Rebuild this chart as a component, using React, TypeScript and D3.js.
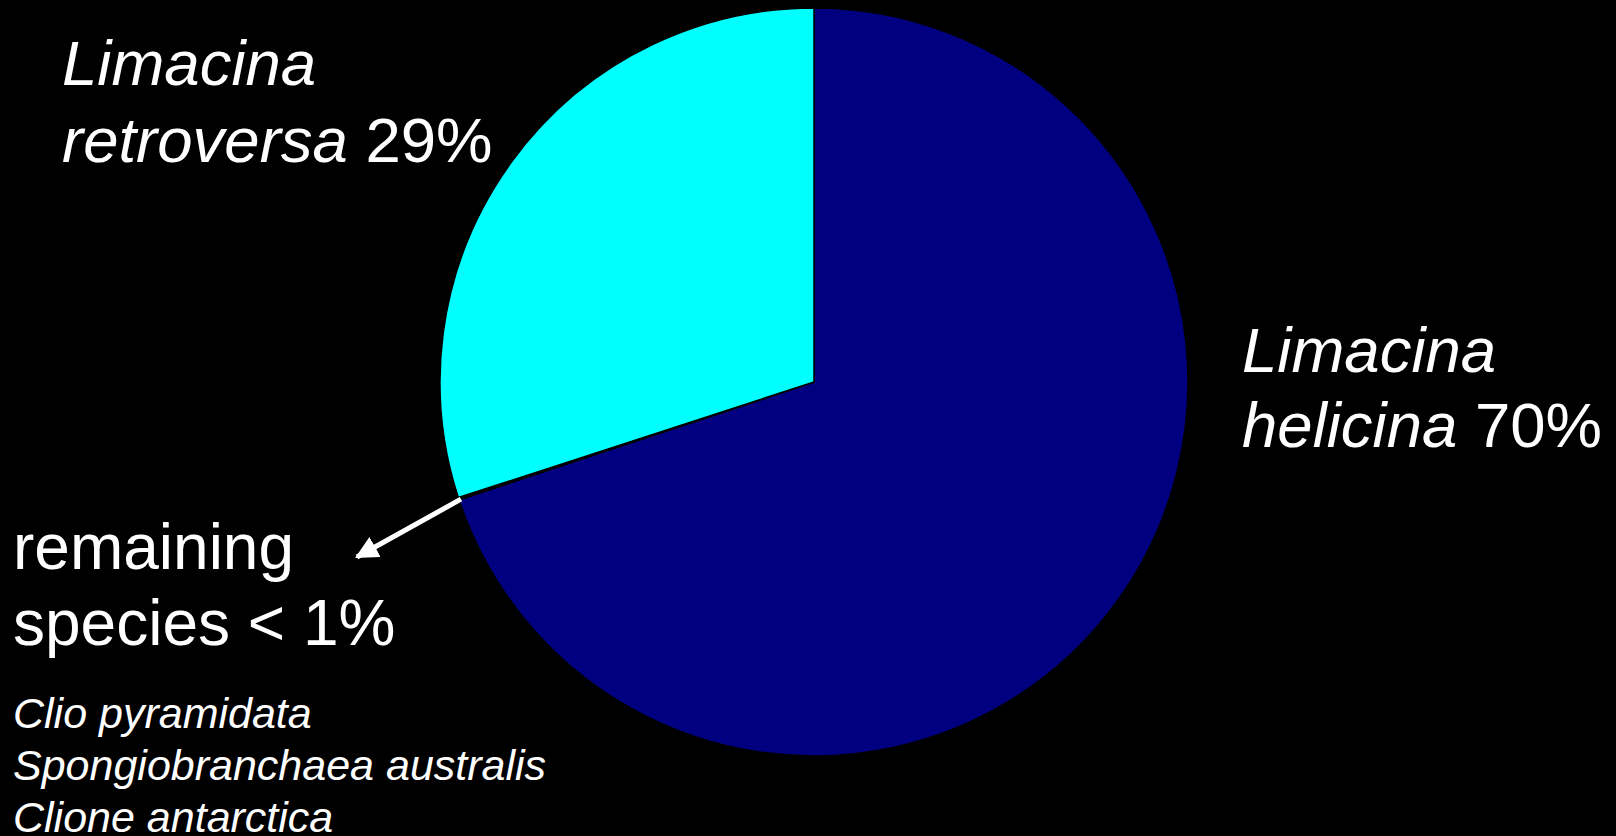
import React from "react";
import * as d3 from "d3";

const categories = ["Limacina helicina", "remaining species", "Limacina retroversa"];
const values = [69.9, 0.1, 30.0];
const colors = ["#000080", "#000000", "#00FFFF"];
const minorSpecies = ["Clio pyramidata", "Spongiobranchaea australis", "Clione antarctica"];

const W = 1616;
const H = 836;
const cx = 814;
const cy = 382;
const R = 374;

export default function App() {
  const pie = d3.pie<number>().sort(null).value((d) => d)(values);
  const arc = d3.arc<d3.PieArcDatum<number>>().innerRadius(0).outerRadius(R);
  const a0 = pie[0].endAngle;
  const sx = cx + (R - 2) * Math.sin(a0);
  const sy = cy - (R - 2) * Math.cos(a0);
  const tx = 357;
  const ty = 557;
  const font = "'Liberation Sans', Arial, sans-serif";
  return (
    <svg
      width={W}
      height={H}
      style={{ position: "absolute", left: 0, top: 0, display: "block" }}
    >
      <defs>
        <marker id="ah" viewBox="0 0 10 10" refX="9" refY="5" markerWidth="4.6" markerHeight="4.6" orient="auto" markerUnits="strokeWidth">
          <path d="M0,0 L10,5 L0,10 Z" fill="#fff" />
        </marker>
      </defs>
      <rect x={0} y={0} width={W} height={H} fill="#000" />
      <g transform={`translate(${cx},${cy})`}>
        {pie.map((p, i) => (
          <path key={categories[i]} d={arc(p) || ""} fill={colors[i]} stroke="#000" strokeWidth={1.5} />
        ))}
      </g>
      <line x1={sx} y1={sy} x2={tx} y2={ty} stroke="#fff" strokeWidth={5} markerEnd="url(#ah)" />
      <g fill="#fff" fontFamily={font} fontSize={63.5}>
        <text x={62} y={85}><tspan fontStyle="italic">Limacina</tspan></text>
        <text x={62} y={162}><tspan fontStyle="italic">retroversa</tspan> 29%</text>
        <text x={1242} y={372}><tspan fontStyle="italic">Limacina</tspan></text>
        <text x={1242} y={447}><tspan fontStyle="italic">helicina</tspan> 70%</text>
      </g>
      <g fill="#fff" fontFamily={font} fontSize={64}>
        <text x={13} y={569}>remaining</text>
        <text x={13} y={645}>species &lt; 1%</text>
      </g>
      <g fill="#fff" fontFamily={font} fontSize={43} fontStyle="italic">
        {minorSpecies.map((s, i) => (
          <text key={s} x={13} y={728 + i * 52}>{s}</text>
        ))}
      </g>
    </svg>
  );
}
